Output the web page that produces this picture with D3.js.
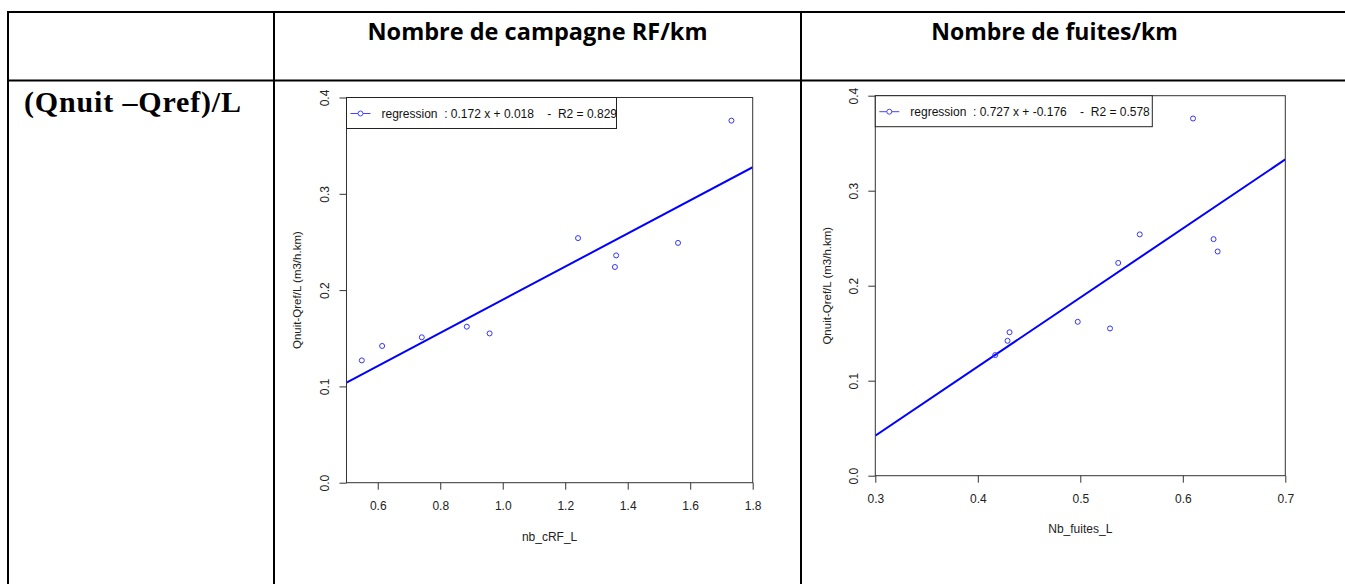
<!DOCTYPE html>
<html>
<head>
<meta charset="utf-8">
<script src="https://cdn.jsdelivr.net/npm/d3@7"></script>
<style>
  html, body { margin: 0; padding: 0; background: #fff; }
  svg { display: block; }
</style>
</head>
<body>
<svg id="chart" width="1345" height="584"></svg>
<script>
// Night flow minus reference flow per km of network, one value per sector
const nightFlow = [0.376, 0.254, 0.249, 0.236, 0.224, 0.162, 0.155, 0.151, 0.142, 0.127];
// Number of leak-detection campaigns per km, same sectors
const rfCampaigns = [1.732, 1.241, 1.561, 1.363, 1.359, 0.885, 0.958, 0.741, 0.614, 0.549];
// Number of leaks per km, same sectors
const leaksPerKm = [0.610, 0.558, 0.630, 0.634, 0.537, 0.4975, 0.529, 0.431, 0.429, 0.417];

// Fitted regression lines, as reported in the legends
const fitSlope = [0.172, 0.727];
const fitIntercept = [0.018, -0.176];
const fitR2 = [0.829, 0.578];

// Axis ticks
const yTicks = [0.0, 0.1, 0.2, 0.3, 0.4];
const xTicksRF = [0.6, 0.8, 1.0, 1.2, 1.4, 1.6, 1.8];
const xTicksLeaks = [0.3, 0.4, 0.5, 0.6, 0.7];

// Table texts
const columnHeaders = ["Nombre de campagne RF/km", "Nombre de fuites/km"];
const rowHeader = "(Qnuit \u2013Qref)/L";
const xTitles = ["nb_cRF_L", "Nb_fuites_L"];
const yTitle = "Qnuit-Qref/L (m3/h.km)";

const svg = d3.select("#chart");
svg.append("rect").attr("width", 1345).attr("height", 584).attr("fill", "#fff");

// ---- table grid ----
const grid = svg.append("g").attr("stroke", "#000").attr("stroke-width", 2);
grid.append("line").attr("x1", 7).attr("x2", 1345).attr("y1", 12).attr("y2", 12);
grid.append("line").attr("x1", 7).attr("x2", 1345).attr("y1", 80.5).attr("y2", 80.5);
[8, 274, 801].forEach(x => {
  grid.append("line").attr("x1", x).attr("x2", x).attr("y1", 11).attr("y2", 584);
});

// column headers
const headerFont = "'Open Sans', Lato, sans-serif";
[[537.5, columnHeaders[0], 23.5], [1054.5, columnHeaders[1], 23]].forEach(([cx, t, fs]) => {
  svg.append("text").attr("x", cx).attr("y", 40)
    .attr("text-anchor", "middle")
    .attr("font-family", headerFont).attr("font-weight", "bold")
    .attr("font-size", fs).attr("fill", "#000").text(t);
});
// row header
svg.append("text").attr("x", 24).attr("y", 111.5)
  .attr("font-family", "'Liberation Serif', 'Times New Roman', serif")
  .attr("font-weight", "bold").attr("font-size", 30).attr("fill", "#000")
  .attr("textLength", 217).attr("lengthAdjust", "spacing")
  .text(rowHeader);

// ---- scatter panels ----
const plotFont = "'Liberation Sans', Arial, sans-serif";
const fmt3 = v => v.toFixed(3);

function panel(cfg) {
  const g = svg.append("g");
  const x = d3.scaleLinear().domain(cfg.xDomain).range([cfg.left, cfg.right]);
  const y = d3.scaleLinear().domain([0, 0.4]).range([cfg.bottom, cfg.top]);

  // regression line clipped to the plotting region
  const clipId = "clip-" + cfg.id;
  g.append("clipPath").attr("id", clipId).append("rect")
    .attr("x", cfg.left).attr("y", cfg.top)
    .attr("width", cfg.right - cfg.left).attr("height", cfg.bottom - cfg.top);
  const xs = cfg.xDomain;
  g.append("line")
    .attr("clip-path", `url(#${clipId})`)
    .attr("x1", x(xs[0])).attr("y1", y(cfg.slope * xs[0] + cfg.intercept))
    .attr("x2", x(xs[1])).attr("y2", y(cfg.slope * xs[1] + cfg.intercept))
    .attr("stroke", "#0000ff").attr("stroke-width", 2);

  // points
  g.append("g").selectAll("circle")
    .data(cfg.xs.map((v, i) => [v, cfg.ys[i]]))
    .join("circle")
    .attr("cx", d => x(d[0])).attr("cy", d => y(d[1])).attr("r", 2.5)
    .attr("fill", "none").attr("stroke", "#3333ff").attr("stroke-width", 1);

  // axes
  const xAxis = g.append("g").attr("transform", `translate(0,${cfg.bottom})`)
    .call(d3.axisBottom(x).tickValues(cfg.xTicks).tickSize(7).tickSizeOuter(0)
      .tickFormat(d3.format(".1f")));
  xAxis.select(".domain").remove();
  xAxis.selectAll("line").attr("stroke", "#333");
  xAxis.selectAll("text").attr("y", 23).attr("dy", "0.35em")
    .attr("font-family", plotFont).attr("font-size", 12).attr("fill", "#222");

  const yAxis = g.append("g").attr("transform", `translate(${cfg.left},0)`)
    .call(d3.axisLeft(y).tickValues(yTicks).tickSize(7).tickSizeOuter(0)
      .tickFormat(d3.format(".1f")));
  yAxis.select(".domain").remove();
  yAxis.selectAll("line").attr("stroke", "#333");
  yAxis.selectAll("text")
    .attr("x", 0).attr("y", -21.5).attr("dy", "0.35em")
    .attr("transform", "rotate(-90)")
    .attr("text-anchor", "middle")
    .attr("font-family", plotFont).attr("font-size", 12).attr("fill", "#222");

  // plot box
  g.append("rect")
    .attr("x", cfg.left).attr("y", cfg.top)
    .attr("width", cfg.right - cfg.left).attr("height", cfg.bottom - cfg.top)
    .attr("fill", "none").attr("stroke", "#333").attr("stroke-width", 1);

  // axis titles
  g.append("text").attr("x", (cfg.left + cfg.right) / 2).attr("y", cfg.xTitleY)
    .attr("dy", "0.35em").attr("text-anchor", "middle")
    .attr("font-family", plotFont).attr("font-size", 12).attr("fill", "#222")
    .text(cfg.xTitle);
  const ym = (cfg.top + cfg.bottom) / 2;
  g.append("text")
    .attr("transform", `translate(${cfg.left - cfg.yTitleOff},${ym}) rotate(-90)`)
    .attr("dy", "0.35em").attr("text-anchor", "middle")
    .attr("font-family", plotFont).attr("font-size", 11.5).attr("fill", "#222")
    .text(yTitle);

  // legend
  const lg = g.append("g").attr("transform", `translate(${cfg.left},${cfg.top})`);
  lg.append("rect").attr("x", 0).attr("y", 0)
    .attr("width", cfg.legendW).attr("height", 31)
    .attr("fill", "#fff").attr("stroke", "#222").attr("stroke-width", 1);
  lg.append("line").attr("x1", 4).attr("x2", 24).attr("y1", 16).attr("y2", 16)
    .attr("stroke", "#4444ff").attr("stroke-width", 1);
  lg.append("circle").attr("cx", 14).attr("cy", 16).attr("r", 2.5)
    .attr("fill", "#fff").attr("stroke", "#4444ff").attr("stroke-width", 1);
  lg.append("text").attr("x", 35).attr("y", 16).attr("dy", "0.35em")
    .attr("font-family", plotFont).attr("font-size", 12).attr("fill", "#111")
    .attr("xml:space", "preserve")
    .text(`regression  : ${fmt3(cfg.slope)} x + ${fmt3(cfg.intercept)}    -  R2 = ${fmt3(cfg.r2)}`);
}

panel({
  id: "rf", xs: rfCampaigns, ys: nightFlow, xDomain: [0.5, 1.8], xTicks: xTicksRF,
  left: 346.5, right: 752.7, top: 97.5, bottom: 482.7,
  slope: fitSlope[0], intercept: fitIntercept[0], r2: fitR2[0],
  xTitle: xTitles[0], xTitleY: 536.5, yTitleOff: 49.5, legendW: 270
});
panel({
  id: "leaks", xs: leaksPerKm, ys: nightFlow, xDomain: [0.3, 0.7], xTicks: xTicksLeaks,
  left: 875.3, right: 1285.3, top: 95.7, bottom: 475.7,
  slope: fitSlope[1], intercept: fitIntercept[1], r2: fitR2[1],
  xTitle: xTitles[1], xTitleY: 529, yTitleOff: 48.5, legendW: 277
});
</script>
</body>
</html>
